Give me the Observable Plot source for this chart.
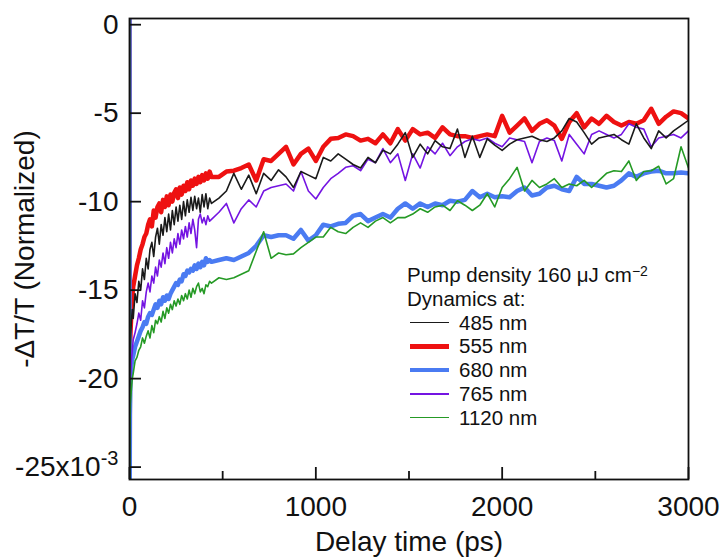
<!DOCTYPE html>
<html>
<head>
<meta charset="utf-8">
<script src="https://cdn.jsdelivr.net/npm/d3@7"></script>
<script src="https://cdn.jsdelivr.net/npm/@observablehq/plot@0.6"></script>
<style>
  html, body { margin: 0; padding: 0; background: #fff; }
  #wrap { position: relative; width: 723px; height: 559px; overflow: hidden; }
  #legend { position: absolute; left: 407px; top: 263px; font-family: "Liberation Sans", Arial, sans-serif; font-size: 20.5px; line-height: 23.8px; color: #111; white-space: nowrap; }
  #legend .row { display: flex; align-items: center; height: 23.8px; }
  #legend .sw { width: 39px; margin-left: 3px; margin-right: 10px; }
  #legend sup { font-size: 14px; vertical-align: 6px; line-height: 0; }
</style>
</head>
<body>
<div id="wrap"><div id="legend"></div></div>
<script>
// ---- data ----
const delays = [0, 1,
  2, 5, 10, 15, 20, 30, 40, 50, 60, 70, 80, 90, 100, 110, 120, 130, 140, 150, 160, 170, 180, 190, 200,
  210, 220, 230, 240, 250, 260, 270, 280, 290, 300, 310, 320, 330, 340, 350, 360, 370, 380, 390, 400,
  410, 420, 430, 440,
  480, 520, 560, 600, 640, 680, 720, 760, 800, 840, 880, 920, 960, 1000, 1040, 1080, 1120, 1160, 1200,
  1240, 1280, 1320, 1360, 1400, 1440, 1480, 1520, 1560, 1600, 1640, 1680, 1720, 1760, 1800, 1840, 1880,
  1920, 1960, 2000, 2040, 2080, 2120, 2160, 2200, 2240, 2280, 2320, 2360, 2400, 2440, 2480, 2520, 2560,
  2600, 2640, 2680, 2720, 2760, 2800, 2840, 2880, 2920, 2960, 3000];

const s485 = [0.3, -27,
  -19.5, -17.8, -16.8, -16.1, -16.6, -15.2, -15.7, -14.5, -15.0, -13.8, -14.4, -13.2, -13.8, -12.7, -12.3, -13.1, -12.0, -11.5, -12.4, -11.3, -11.9, -10.9, -11.7,
  -10.7, -11.6, -10.5, -11.3, -10.3, -11.1, -10.2, -11.0, -10.0, -10.8, -9.9, -10.6, -9.75, -10.5, -9.7, -10.4, -9.8, -10.6, -9.6, -10.3,
  -9.55, -10.4, -9.8, -10.1,
  -9.8, -9.4, -8.4, -9.3, -8.5, -9.55, -8.4, -8.8, -8.2, -8.6, -9.2, -8.3, -8.5, -8.7, -7.5, -7.7, -7.3, -7.6, -7.9,
  -8.1, -7.5, -7.8, -7.1, -7.3, -6.75, -6.1, -7.5, -6.75, -7.3, -6.55, -6.9, -7.0, -5.9, -7.5, -6.3, -7.5,
  -6.45, -6.8, -7.1, -6.75, -6.5, -6.4, -6.3, -6.5, -6.6, -6.4, -6.0, -5.3, -5.5, -6.1, -6.75, -6.4, -6.3,
  -6.2, -6.5, -6.75, -5.6, -6.4, -7.0, -6.0, -6.4, -6.0, -5.7, -5.4];

const s555 = [0.3, -27,
  -19.0, -17.5, -16.2, -15.4, -14.8, -14.2, -13.6, -13.2, -12.7, -12.4, -12.0, -11.8, -11.3, -11.0, -11.4, -10.5, -10.9, -10.3, -10.1, -10.6, -9.9, -10.3, -9.7,
  -10.2, -9.6, -10.0, -9.5, -9.3, -9.8, -9.2, -9.6, -9.1, -9.4, -8.9, -9.3, -8.8, -9.1, -8.7, -9.0, -8.6, -8.9, -8.5, -8.8,
  -8.4, -8.7, -8.3, -8.6,
  -8.6, -8.3, -8.25, -8.1, -7.9, -8.8, -7.6, -7.7, -7.3, -6.9, -7.9, -7.3, -7.0, -7.7, -6.9, -6.45, -6.4, -6.2, -6.3,
  -6.55, -6.45, -6.7, -6.2, -6.7, -5.9, -6.55, -5.9, -6.2, -6.1, -6.4, -5.8, -6.2, -6.3, -6.3, -6.4, -6.3,
  -6.2, -6.3, -5.15, -6.1, -5.7, -5.3, -6.0, -5.6, -5.4, -5.7, -6.45, -5.5, -5.0, -5.8, -5.3, -5.6, -5.15,
  -5.5, -5.7, -5.5, -5.6, -5.4, -4.75, -5.6, -5.2, -4.9, -5.0, -5.3];

const s680 = [0.3, -27,
  -22.0, -20.0, -19.3, -18.9, -18.7, -18.2, -17.9, -17.6, -17.3, -17.1, -16.8, -16.9, -16.5, -16.3, -16.4, -16.1, -15.8, -16.0, -15.6, -15.8, -15.4, -15.6, -15.3,
  -15.5, -15.2, -15.0, -14.8, -14.6, -14.7, -14.4, -14.5, -14.1, -14.2, -13.9, -14.0, -13.8, -13.9, -13.6, -13.8, -13.5, -13.7, -13.4, -13.6,
  -13.2, -13.4, -13.3, -13.4,
  -13.3, -13.2, -13.3, -13.1, -12.9, -12.5, -11.9, -12.0, -11.9, -11.9, -12.1, -11.6, -12.2, -11.9, -11.3, -11.4, -11.25, -11.2, -10.8,
  -10.7, -11.1, -10.9, -10.7, -10.9, -10.4, -10.1, -10.4, -10.1, -10.3, -10.1, -10.2, -9.95, -10.0, -9.9, -9.4, -9.75,
  -9.55, -9.75, -9.7, -9.75, -9.4, -9.2, -9.65, -9.55, -9.2, -9.1, -9.3, -9.4, -8.6, -9.0, -9.0, -9.1, -9.2,
  -9.1, -8.8, -8.4, -8.6, -8.4, -8.3, -8.25, -8.4, -8.4, -8.35, -8.4];

const s765 = [0.3, -27,
  -21.0, -20.1, -19.0, -18.4, -17.8, -17.4, -16.9, -16.3, -16.7, -15.6, -16.0, -15.1, -14.6, -15.1, -14.2, -14.6, -13.7, -14.2, -13.3, -13.7, -12.9, -13.5, -12.6,
  -13.2, -12.3, -12.9, -12.1, -12.6, -11.8, -12.4, -11.6, -12.1, -11.4, -12.0, -11.2, -11.8, -11.0, -11.6, -12.6, -11.0, -10.7, -11.2, -10.9,
  -11.3, -10.8, -11.1, -11.0,
  -10.6, -10.1, -11.2, -10.4, -9.9, -10.3, -9.4, -9.2, -9.1, -9.0, -9.4, -8.3, -9.4, -9.85, -9.2, -8.7, -8.4, -8.06, -7.97,
  -8.25, -7.6, -7.8, -7.0, -7.8, -7.3, -8.8, -7.3, -8.1, -6.9, -7.3, -6.7, -7.4, -6.9, -6.6, -6.45, -6.55,
  -6.4, -6.7, -6.9, -6.4, -6.5, -6.6, -7.8, -6.6, -6.4, -6.55, -7.7, -6.2, -6.75, -7.3, -6.2, -6.0, -6.2,
  -6.4, -6.2, -5.6, -5.8, -5.9, -6.9, -6.4, -6.3, -6.2, -6.4, -6.0];

const s1120 = [0.3, -27,
  -23.0, -21.4, -20.6, -20.0, -19.7, -19.0, -18.8, -18.4, -18.2, -17.7, -18.0, -17.6, -17.3, -17.7, -17.0, -17.4, -16.7, -16.9, -16.5, -16.8, -16.2, -16.6, -16.0,
  -16.3, -15.8, -16.1, -15.6, -15.9, -15.5, -15.8, -15.3, -15.6, -15.2, -15.5, -15.0, -15.4, -14.9, -15.2, -14.8, -14.6, -15.1, -14.9, -15.2,
  -14.7, -14.8, -14.5, -14.6,
  -14.3, -14.4, -14.3, -14.1, -13.9, -12.8, -11.7, -13.2, -12.9, -13.0, -12.95, -12.6, -12.3, -12.0, -12.0, -11.45, -11.7, -11.8, -11.45,
  -11.2, -11.45, -11.1, -10.9, -11.2, -10.9, -10.9, -10.7, -10.4, -10.6, -10.3, -10.2, -10.5, -9.95, -10.2, -10.5, -10.2,
  -9.55, -10.3, -9.2, -8.7, -8.06, -9.4, -8.8, -9.2, -9.0, -8.7, -9.2, -9.0, -9.1, -8.8, -9.2, -8.8, -8.4,
  -8.25, -8.3, -7.7, -8.8, -8.3, -8.25, -8.0, -9.0, -8.7, -6.9, -8.1];

const seriesNames = ["485 nm", "555 nm", "680 nm", "765 nm", "1120 nm"];
const seriesValues = [s485, s555, s680, s765, s1120];
const seriesColors = ["#1a1a1a", "#ee1111", "#4a7bf2", "#7414e2", "#259a25"];
const seriesWidths = [1.6, 4.5, 4.5, 1.6, 1.6];
const drawOrder = [1, 2, 3, 0, 4];

const yTicks = [0, -5, -10, -15, -20, -25];
const yTickLabels = ["0", "-5", "-10", "-15", "-20", "-25x10"];
const xTicks = [0, 1000, 2000, 3000];
const xTickLabels = ["0", "1000", "2000", "3000"];
const xMinorTicks = [500, 1500, 2500];

// ---- build ----
const tables = seriesValues.map((vals, k) =>
  delays.map((t, i) => ({t, v: vals[i], series: seriesNames[k]})));

const lineMarks = drawOrder.map(k =>
  Plot.line(tables[k], {x: "t", y: "v", stroke: seriesColors[k], strokeWidth: seriesWidths[k],
    strokeLinejoin: "round", strokeLinecap: "round", clip: true}));

const plot = Plot.plot({
  width: 723,
  height: 559,
  marginLeft: 129,
  marginRight: 35,
  marginTop: 18,
  marginBottom: 80,
  x: {domain: [0, 3000]},
  y: {domain: [-25.7, 0.35]},
  style: {fontFamily: "'Liberation Sans', Arial, sans-serif", fontSize: "28px", background: "white", color: "#111"},
  marks: [
    ...lineMarks,
    Plot.frame({stroke: "#111", strokeWidth: 1.8}),
    Plot.axisY({ticks: yTicks, tickSize: 12, dx: 12, strokeWidth: 1.8, tickFormat: () => "", label: null}),
    Plot.axisY({ticks: yTicks, tickSize: 0, tickPadding: 11,
      tickFormat: d => yTickLabels[yTicks.indexOf(d)],
      label: "-\u0394T/T (Normalized)", labelAnchor: "center", labelOffset: 115, labelArrow: "none"}),
    Plot.axisX({ticks: xTicks, tickSize: 12, dy: -12, strokeWidth: 1.8, tickFormat: () => "", label: null}),
    Plot.axisX({ticks: xMinorTicks, tickSize: 8, dy: -8, strokeWidth: 1.8, tickFormat: () => "", label: null}),
    Plot.axisX({ticks: xTicks, tickSize: 0, tickPadding: 17,
      tickFormat: d => xTickLabels[xTicks.indexOf(d)],
      label: "Delay time (ps)", labelAnchor: "center", labelOffset: 71, labelArrow: "none"})
  ]
});

// superscript exponent on the last y tick label
d3.select(plot).selectAll("text").each(function () {
  if (this.textContent === "-25x10") {
    d3.select(this).append("tspan").attr("dy", "-0.55em").attr("font-size", "20px").text("-3");
  }
});

document.getElementById("wrap").prepend(plot);

// legend
const legend = d3.select("#legend");
legend.append("div").html("Pump density 160 \u03BCJ cm<sup>\u22122</sup>");
legend.append("div").text("Dynamics at:");
seriesNames.forEach((name, k) => {
  const row = legend.append("div").attr("class", "row");
  row.append("div").attr("class", "sw")
    .style("height", seriesWidths[k] + "px")
    .style("background", seriesColors[k]);
  row.append("span").text(name);
});
</script>
</body>
</html>
